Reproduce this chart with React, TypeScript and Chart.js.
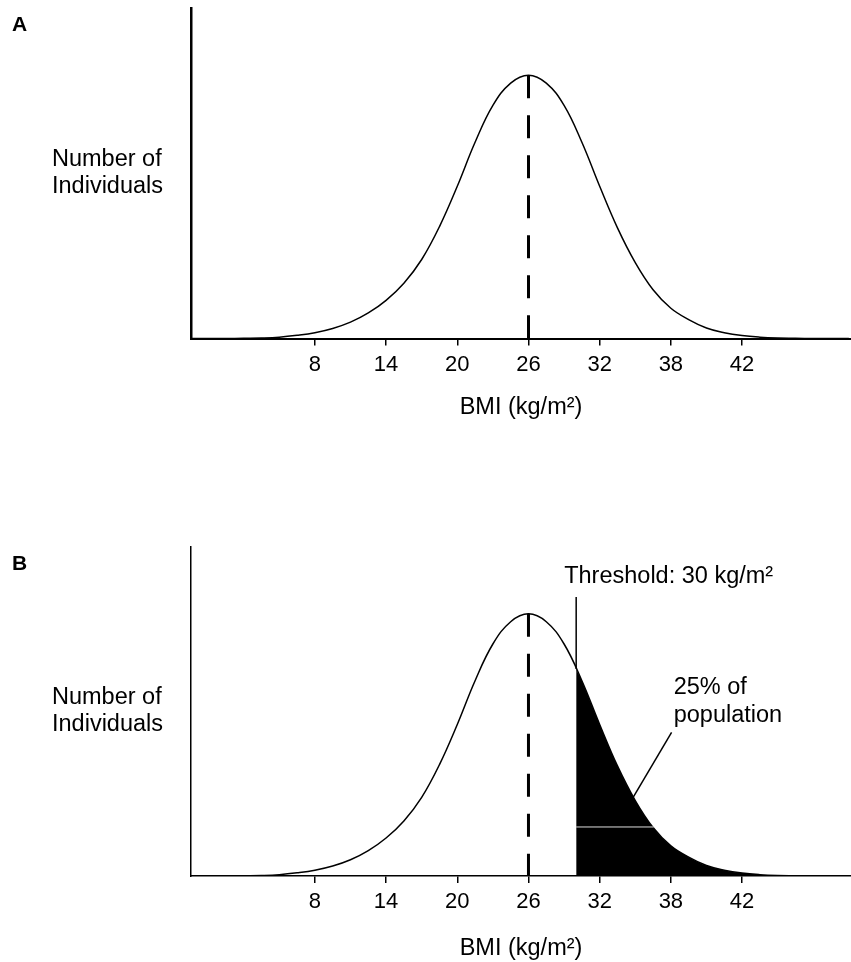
import React, { useEffect, useRef } from "react";
import { Chart, registerables } from "chart.js";

Chart.register(...registerables);

const FONT = "'Liberation Sans', Arial, Helvetica, sans-serif";

// x positions are in tick-slot units: slot 0 = "8", slot 6 = "42"
const tickLabels = ["8", "14", "20", "26", "32", "38", "42"];
const tickPositions = [0, 1, 2, 3, 4, 5, 6];

// distribution curve (relative height, peak = 1)
const curveX = [
  -1.75, -1.5, -1.25, -1.0, -0.75, -0.5, -0.25, 0, 0.25, 0.5, 0.75, 1.0, 1.25, 1.5, 1.75, 2.0, 2.25, 2.5, 2.75, 3.0,
  3.25, 3.5, 3.75, 4.0, 4.25, 4.5, 4.75, 5.0, 5.25, 5.5, 5.75, 6.0, 6.25, 6.5, 6.75, 7.0, 7.25, 7.5,
];
const curveY = [
  0, 0, 0, 0.001, 0.002, 0.005, 0.012, 0.022, 0.038, 0.062, 0.097, 0.145, 0.21, 0.3, 0.425, 0.578, 0.745, 0.885,
  0.97, 1.0, 0.97, 0.885, 0.745, 0.578, 0.42, 0.288, 0.185, 0.115, 0.072, 0.04, 0.022, 0.011, 0.005, 0.002, 0.001,
  0, 0, 0,
];

const meanPos = 3; // 26 kg/m2
const peakValue = 1.0;
const thresholdPos = 3.67; // 30 kg/m2
const thresholdCurveValue = 0.79;
const thresholdLineTop = 1.064;
const pointerStart = { x: 5.01, y: 0.548 };
const pointerEnd = { x: 4.47, y: 0.3 };
const artifactY = 0.187;
const artifactEndX = 4.76;

const X_MIN = -1.74;
const X_MAX = 7.53;
const Y_MAX = 1.255;

type PanelCfg = {
  panel: "A" | "B";
  height: number;
  top: number;
  plotBottom: number;
  titleCenter: number;
  xBorder: number;
  yBorder: number;
};

function buildChart(canvas: HTMLCanvasElement, cfg: PanelCfg) {
  const curvePts = curveX.map((x, i) => ({ x, y: curveY[i] }));
  const datasets: any[] = [
    {
      data: curvePts,
      borderColor: "#000",
      borderWidth: 1.5,
      pointRadius: 0,
      tension: 0.4,
      fill: false,
      order: 2,
    },
    {
      data: [
        { x: meanPos, y: peakValue },
        { x: meanPos, y: 0 },
      ],
      borderColor: "#000",
      borderWidth: 3,
      borderDash: [23, 17],
      pointRadius: 0,
      fill: false,
      order: 1,
    },
  ];
  if (cfg.panel === "B") {
    const tail = [{ x: thresholdPos, y: thresholdCurveValue }].concat(
      curvePts.filter((p) => p.x > thresholdPos)
    );
    datasets.push(
      {
        data: tail,
        borderWidth: 0,
        borderColor: "rgba(0,0,0,0)",
        backgroundColor: "#000",
        pointRadius: 0,
        tension: 0.4,
        fill: "origin",
        order: 3,
      },
      {
        data: [
          { x: artifactEndX, y: artifactY },
          { x: thresholdPos, y: artifactY },
        ],
        borderColor: "#ddd",
        borderWidth: 1,
        pointRadius: 0,
        fill: false,
        order: 0,
      },
      {
        data: [
          { x: thresholdPos, y: thresholdCurveValue },
          { x: thresholdPos, y: thresholdLineTop },
        ],
        borderColor: "#000",
        borderWidth: 1.5,
        pointRadius: 0,
        fill: false,
        order: 0,
      },
      {
        data: [pointerStart, pointerEnd],
        borderColor: "#000",
        borderWidth: 1.5,
        pointRadius: 0,
        fill: false,
        order: 0,
      }
    );
  }

  const axisHeight = cfg.titleCenter + 14 - cfg.plotBottom;
  const padBottom = cfg.height - (cfg.titleCenter + 14);

  const textPlugin = {
    id: "panelText",
    afterDraw(chart: any) {
      const { ctx, chartArea, scales } = chart;
      const xs = scales.x;
      const ys = scales.y;
      ctx.save();
      ctx.fillStyle = "#000";
      ctx.textBaseline = "middle";
      ctx.textAlign = "left";
      ctx.font = `bold 21px ${FONT}`;
      ctx.fillText(cfg.panel, 12, chartArea.top + 17);
      ctx.font = `23.5px ${FONT}`;
      const mid = (chartArea.top + chartArea.bottom) / 2;
      ctx.fillText("Number of", 52, mid - 13.5);
      ctx.fillText("Individuals", 52, mid + 13.5);
      if (cfg.panel === "B") {
        ctx.textBaseline = "alphabetic";
        ctx.fillText(
          "Threshold: 30 kg/m²",
          xs.getPixelForValue(thresholdPos) - 12,
          ys.getPixelForValue(thresholdLineTop) - 14
        );
        ctx.textBaseline = "middle";
        const tx = xs.getPixelForValue(5.04);
        const ty = ys.getPixelForValue(0.72);
        ctx.fillText("25% of", tx, ty);
        ctx.fillText("population", tx, ty + 28);
      }
      ctx.restore();
    },
  };

  return new Chart(canvas, {
    type: "line",
    data: { datasets },
    options: {
      animation: false,
      responsive: false,
      maintainAspectRatio: false,
      layout: {
        padding: { left: 191, right: 0, top: cfg.top, bottom: padBottom },
      },
      plugins: {
        legend: { display: false },
        tooltip: { enabled: false },
        title: { display: false },
      },
      scales: {
        x: {
          type: "linear",
          min: X_MIN,
          max: X_MAX,
          afterBuildTicks: (scale: any) => {
            scale.ticks = tickPositions.map((v) => ({ value: v }));
          },
          afterFit: (scale: any) => {
            scale.height = axisHeight;
          },
          ticks: {
            autoSkip: false,
            maxRotation: 0,
            color: "#000",
            padding: 6,
            font: { family: FONT, size: 22 },
            callback: (_v: any, i: number) => tickLabels[i],
          },
          grid: {
            display: true,
            drawOnChartArea: false,
            drawTicks: true,
            tickLength: 7,
            color: "#000",
            lineWidth: 1.5,
          },
          border: { display: true, color: "#000", width: cfg.xBorder },
          title: {
            display: true,
            text: "BMI (kg/m²)",
            color: "#000",
            font: { family: FONT, size: 23.5 },
            padding: 0,
          },
        },
        y: {
          type: "linear",
          min: 0,
          max: Y_MAX,
          afterFit: (scale: any) => {
            scale.width = 0;
          },
          ticks: { display: false },
          grid: { display: false, drawTicks: false },
          border: { display: true, color: "#000", width: cfg.yBorder },
        },
      },
    },
    plugins: [textPlugin],
  } as any);
}

function Panel({ cfg }: { cfg: PanelCfg }) {
  const ref = useRef<HTMLCanvasElement | null>(null);
  useEffect(() => {
    if (!ref.current) return;
    const chart = buildChart(ref.current, cfg);
    return () => chart.destroy();
  }, []);
  return (
    <canvas
      ref={ref}
      width={851}
      height={cfg.height}
      style={{ display: "block", width: 851, height: cfg.height }}
    />
  );
}

const panelA: PanelCfg = {
  panel: "A",
  height: 470,
  top: 8,
  plotBottom: 338.5,
  titleCenter: 408,
  xBorder: 2,
  yBorder: 2.5,
};
const panelB: PanelCfg = {
  panel: "B",
  height: 492,
  top: 77,
  plotBottom: 406,
  titleCenter: 479,
  xBorder: 1.5,
  yBorder: 1.5,
};

export default function App() {
  return (
    <div
      style={{
        position: "absolute",
        left: 0,
        top: 0,
        width: 851,
        height: 962,
        background: "#fff",
      }}
    >
      <Panel cfg={panelA} />
      <Panel cfg={panelB} />
    </div>
  );
}
